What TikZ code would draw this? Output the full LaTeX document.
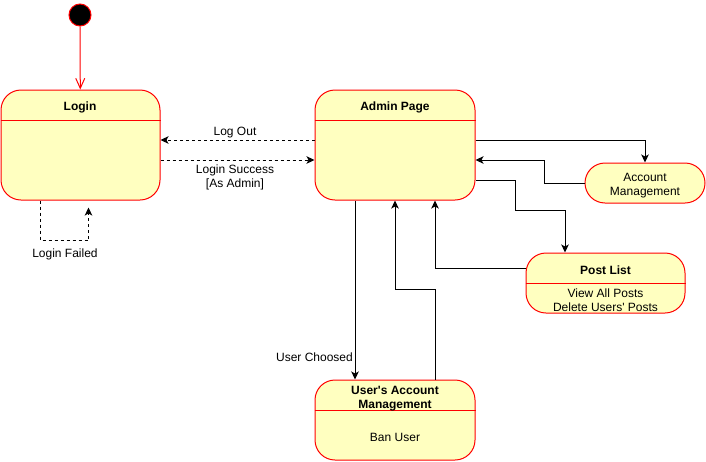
\documentclass[tikz,border=0pt]{standalone}
\usepackage{fontspec}
\setmainfont{Liberation Sans}
\usetikzlibrary{arrows.meta}
\definecolor{stfill}{HTML}{FFFFC0}
\definecolor{stline}{HTML}{FF0000}
\begin{document}
\begin{tikzpicture}[x=1pt,y=-1pt,
 state/.style={draw=stline, fill=stfill, line width=1pt, rounded corners=20pt, rectangle, inner sep=0pt},
 lbl/.style={font=\fontsize{12}{14}\selectfont, align=center, inner sep=0pt},
 ttl/.style={font=\fontsize{12}{14}\selectfont\bfseries, align=center, inner sep=0pt},
 conn/.style={line width=1pt, -{Stealth[length=8pt,width=7.5pt,inset=2pt]}},
 dconn/.style={conn, dash pattern=on 3pt off 3pt},
 hdr/.style={draw=stline, line width=1pt}]
\useasboundingbox (0,0) rectangle (706,461);
% states
\node[circle, draw=stline, fill=black, line width=1pt, minimum size=22pt, inner sep=0pt] (init) at (80,15) {};
\node[state, minimum width=159pt, minimum height=110pt] (login) at (80.5,145) {};
\node[state, minimum width=160pt, minimum height=110pt] (admin) at (395,145) {};
\node[state, minimum width=120pt, minimum height=40pt] (acct) at (645,183) {};
\node[state, minimum width=159pt, minimum height=60pt] (post) at (605.5,283) {};
\node[state, minimum width=160pt, minimum height=80pt] (uam) at (395,420) {};
% header lines
\draw[hdr] (login.west |- 0,120) -- (login.east |- 0,120);
\draw[hdr] (admin.west |- 0,120) -- (admin.east |- 0,120);
\draw[hdr] (post.west |- 0,283) -- (post.east |- 0,283);
\draw[hdr] (uam.west |- 0,410) -- (uam.east |- 0,410);
% texts
\node[ttl] (logint) at (80,107.5) {Login};
\node[ttl] (admint) at (395,107.5) {Admin Page};
\node[lbl] (acctt) at (645,185.5) {Account\\Management};
\node[ttl] (postt) at (605.5,270.5) {Post List};
\node[lbl] (postb) at (605.5,300) {View All Posts\\Delete Users\textquotesingle\ Posts};
\node[ttl] (uamt) at (395,398.5) {User\textquotesingle s Account\\Management};
\node[lbl] (uamb) at (395,437) {Ban User};
% connectors
\draw[stline, line width=1pt, -{Straight Barb[length=10pt,width=9pt]}] (init) -- (login);
\draw[dconn] ([yshift=5pt]admin.west) -- ([yshift=5pt]login.east);
\node[lbl] (lo) at (235,133) {Log Out};
\draw[dconn] ([yshift=-15pt]login.east) -- ([yshift=-15pt]admin.west);
\node[lbl] (ls) at (235,177) {Login Success\\{[As Admin]}};
\draw[dconn] ([xshift=-40pt]login.south) -- ++(0,40) -| ([xshift=8pt,yshift=-7pt]login.south);
\node[lbl] (lf) at (65,254) {Login Failed};
\draw[conn] ([yshift=5pt]admin.east) -| (acct.north);
\draw[conn] (acct.west) -- ++(-40,0) |- ([yshift=-15pt]admin.east);
\draw[conn] ([yshift=-35pt]admin.east) -- ++(40,0) -- ++(0,30) -| ([xshift=-40.5pt]post.north);
\draw[conn] ([yshift=15pt]post.west) -| ([xshift=40pt]admin.south);
\draw[conn] ([xshift=-40pt]admin.south) -- ([xshift=-40pt]uam.north);
\node[lbl, anchor=east] (uc) at (353,357) {User Choosed};
\draw[conn] ([xshift=40pt]uam.north) -- ++(0,-90) -| (admin.south);
\end{tikzpicture}
\end{document}
